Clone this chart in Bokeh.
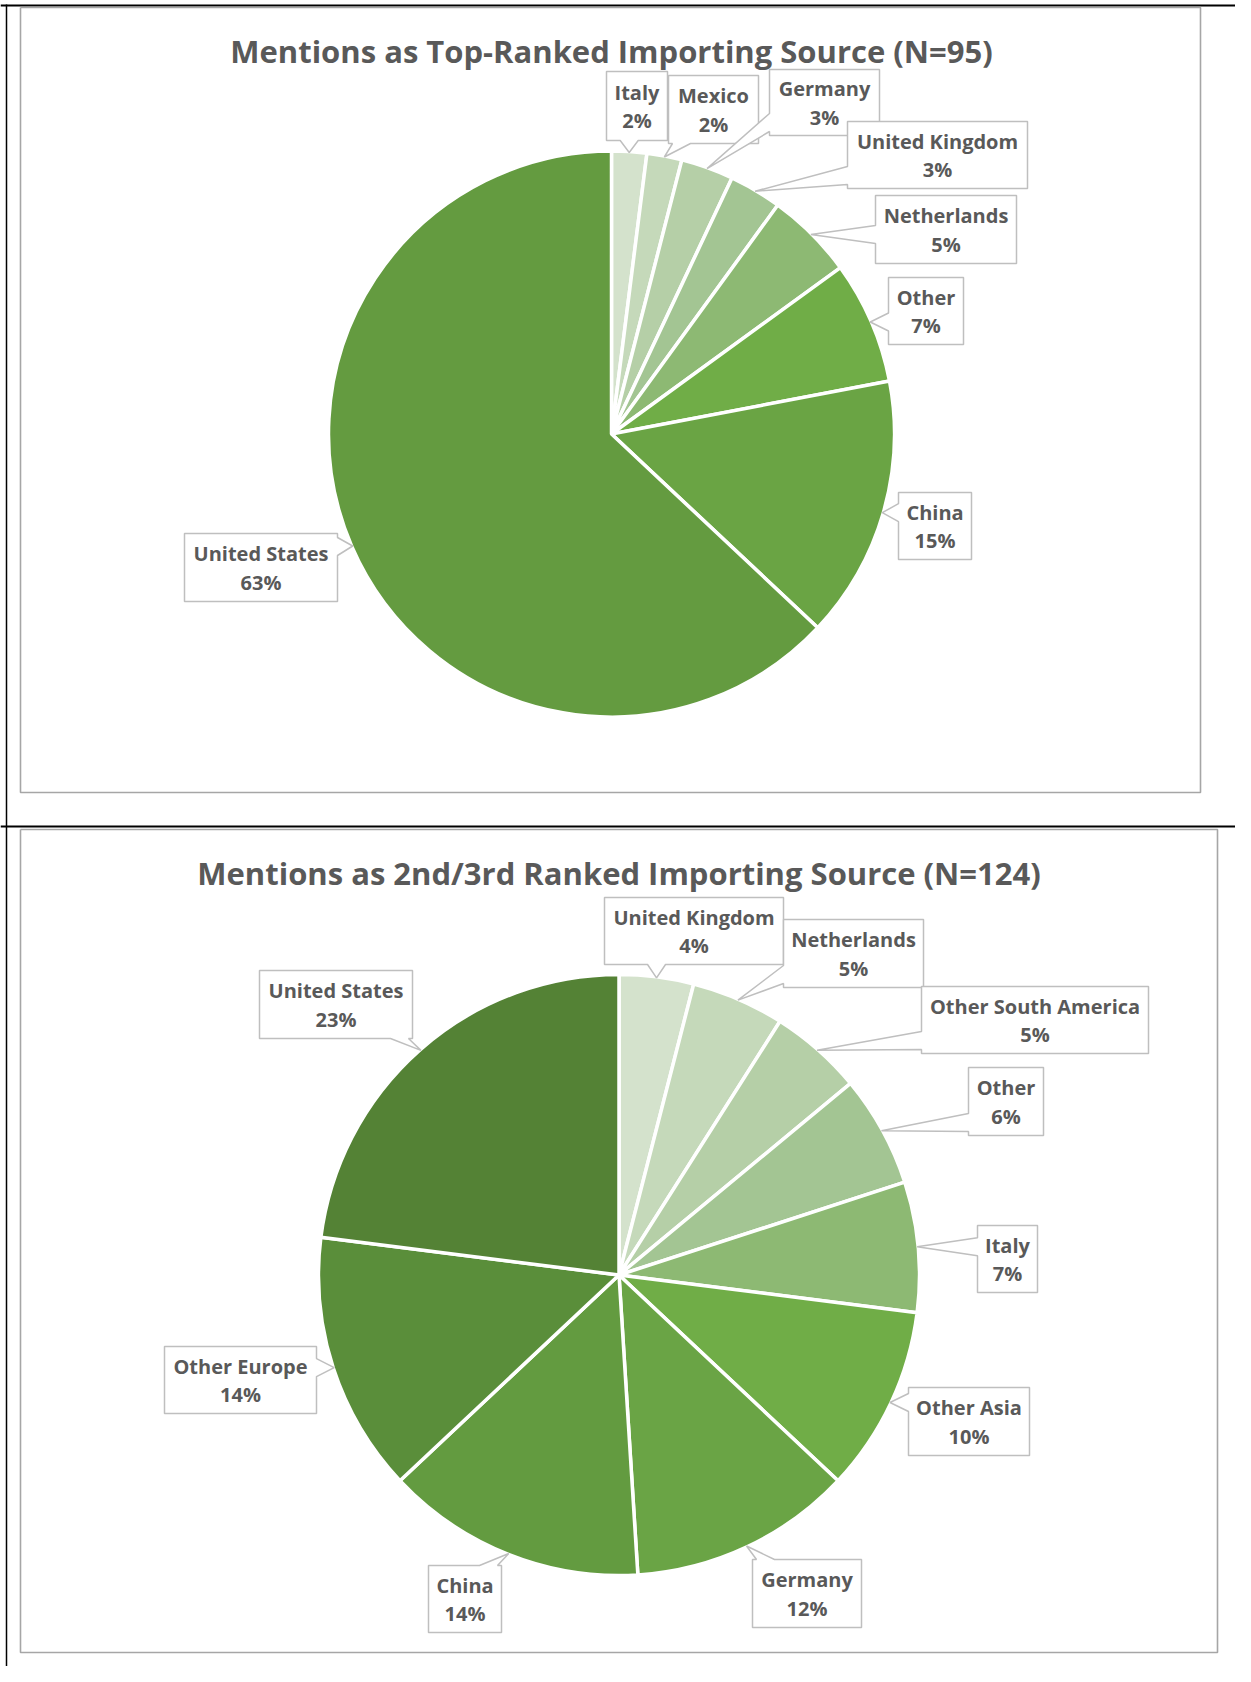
import math
from bokeh.plotting import figure
from bokeh.models import Range1d, ColumnDataSource
from bokeh.core.properties import value
from bokeh.embed import file_html
from bokeh.resources import INLINE

# ---------------- data ----------------
top_title = "Mentions as Top-Ranked Importing Source (N=95)"
top_names = ["Italy", "Mexico", "Germany", "United Kingdom", "Netherlands",
             "Other", "China", "United States"]
top_values = [2, 2, 3, 3, 5, 7, 15, 63]

bottom_title = "Mentions as 2nd/3rd Ranked Importing Source (N=124)"
bottom_names = ["United Kingdom", "Netherlands", "Other South America", "Other",
                "Italy", "Other Asia", "Germany", "China", "Other Europe",
                "United States"]
bottom_values = [4, 5, 5, 6, 7, 10, 12, 14, 14, 23]

# ---------------- styles / layout ----------------
top_colors = ["#d4e2cc", "#c5d9ba", "#b5cfa7", "#a3c593", "#8db973",
              "#70ad47", "#6aa444", "#649b40"]
bottom_colors = ["#d4e2cc", "#c5d9ba", "#b5cfa7", "#a3c593", "#8db973",
                 "#70ad47", "#6aa445", "#639b40", "#5a8e3a", "#548235"]

# label boxes (page pixel coords: x0, y0, x1, y1)
top_boxes = [(606, 71, 667, 140), (668, 75, 758, 143), (769, 69, 879, 135),
             (847, 121, 1027, 188), (875, 195, 1016, 263), (888, 277, 963, 344),
             (898, 492, 971, 559), (184, 533, 337, 601)]
bottom_boxes = [(604, 897, 783, 964), (783, 919, 923, 987), (921, 986, 1148, 1053),
                (968, 1067, 1043, 1135), (977, 1225, 1037, 1292), (908, 1387, 1029, 1455),
                (752, 1559, 861, 1627), (428, 1565, 501, 1632), (164, 1346, 316, 1413),
                (259, 970, 412, 1038)]

PAGE_H = 1682
FONT = value("Open Sans")
TXT = "#595959"


def Y(y):
    return PAGE_H - y


p = figure(width=1235, height=1666, x_range=Range1d(0, 1235), y_range=Range1d(16, 1682),
           output_backend="svg", toolbar_location=None, min_border=0,
           x_axis_location=None, y_axis_location=None)
p.grid.visible = False
p.outline_line_color = None
p.background_fill_color = "white"
p.border_fill_color = "white"

# page / table frame lines
p.line([0, 1235], [Y(5), Y(5)], line_color="black", line_width=2)
p.line([0, 1235], [Y(826), Y(826)], line_color="black", line_width=2)
p.line([6, 6], [Y(4), Y(1682)], line_color="black", line_width=1.5)
# chart area borders
for (x0, y0, x1, y1) in [(20, 7, 1200, 792), (20, 829, 1217, 1652)]:
    p.line([x0, x1, x1, x0, x0], [Y(y0), Y(y0), Y(y1), Y(y1), Y(y0)],
           line_color="#a6a6a6", line_width=1.6)


def callout(box, tip):
    x0, y0, x1, y1 = box
    tx, ty = tip
    outs = {"left": x0 - tx, "right": tx - x1, "top": y0 - ty, "bottom": ty - y1}
    side = max(outs, key=outs.get)
    if side in ("left", "right"):
        L = y1 - y0
        w = min(18, 0.3 * L)
        c = min(max(ty, y0 + w / 2 + 4), y1 - w / 2 - 4)
    else:
        L = x1 - x0
        w = min(18, 0.3 * L)
        c = min(max(tx, x0 + w / 2 + 4), x1 - w / 2 - 4)
    pts = [(x0, y0)]
    if side == "top":
        pts += [(c - w / 2, y0), (tx, ty), (c + w / 2, y0)]
    pts += [(x1, y0)]
    if side == "right":
        pts += [(x1, c - w / 2), (tx, ty), (x1, c + w / 2)]
    pts += [(x1, y1)]
    if side == "bottom":
        pts += [(c + w / 2, y1), (tx, ty), (c - w / 2, y1)]
    pts += [(x0, y1)]
    if side == "left":
        pts += [(x0, c + w / 2), (tx, ty), (x0, c - w / 2)]
    return [q[0] for q in pts], [Y(q[1]) for q in pts]


def draw_pie(title, names, values, colors, boxes, cx, cy, r, title_y):
    total = float(sum(values))
    starts, ends, mids = [], [], []
    acc = 0.0
    for v in values:
        f0 = acc / total
        acc += v
        f1 = acc / total
        starts.append(math.pi / 2 - 2 * math.pi * f0)
        ends.append(math.pi / 2 - 2 * math.pi * f1)
        mids.append(2 * math.pi * (f0 + f1) / 2)
    src = ColumnDataSource(dict(start=starts, end=ends, color=colors,
                                x=[cx] * len(values), y=[Y(cy)] * len(values)))
    p.wedge(x="x", y="y", radius=r, start_angle="start", end_angle="end",
            direction="clock", fill_color="color", line_color="white",
            line_width=3.5, source=src)

    # callouts
    xs, ys = [], []
    for m, box in zip(mids, boxes):
        tip = (cx + (r - 1) * math.sin(m), cy - (r - 1) * math.cos(m))
        bx, by = callout(box, tip)
        xs.append(bx)
        ys.append(by)
    p.patches(xs, ys, fill_color="white", line_color="#bfbfbf", line_width=1.5)

    lx = [(b[0] + b[2]) / 2 for b in boxes]
    ly_name = [Y((b[1] + b[3]) / 2 - 14) for b in boxes]
    ly_pct = [Y((b[1] + b[3]) / 2 + 14.5) for b in boxes]
    pct = ["%d%%" % round(100 * v / total) for v in values]
    p.text(x=lx, y=ly_name, text=names, text_font=FONT, text_font_style="bold",
           text_font_size="20px", text_color=TXT, text_align="center",
           text_baseline="middle")
    p.text(x=lx, y=ly_pct, text=pct, text_font=FONT, text_font_style="bold",
           text_font_size="20px", text_color=TXT, text_align="center",
           text_baseline="middle")
    p.text(x=[cx], y=[Y(title_y)], text=[title], text_font=FONT,
           text_font_style="bold", text_font_size="31px", text_color=TXT,
           text_align="center", text_baseline="middle")


draw_pie(top_title, top_names, top_values, top_colors, top_boxes,
         611, 433.5, 283, 50)
draw_pie(bottom_title, bottom_names, bottom_values, bottom_colors, bottom_boxes,
         618.5, 1274.5, 300.5, 872)

open("out.html", "w").write(file_html(p, INLINE))
